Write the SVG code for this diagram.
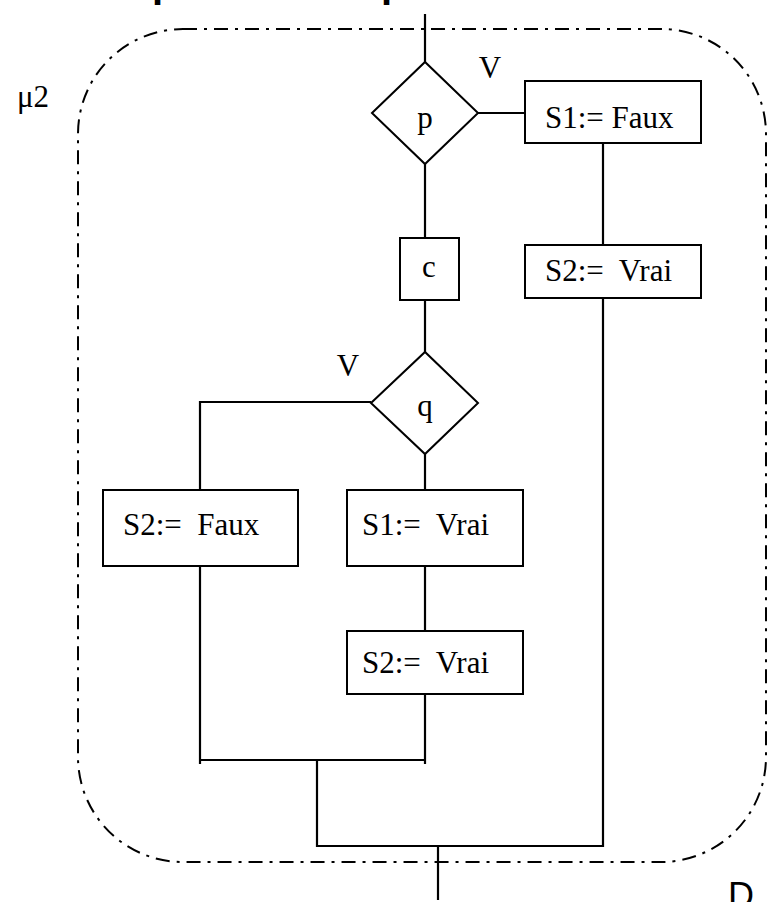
<svg xmlns="http://www.w3.org/2000/svg" width="769" height="902" viewBox="0 0 769 902">
<style>
.ln{fill:none;stroke:#000;stroke-width:2.2}
.bx{fill:#fff;stroke:#000;stroke-width:2}
.t{font-family:"Liberation Serif","Times New Roman",serif;font-size:31px;fill:#000}
.ts{font-family:"Liberation Sans",Arial,sans-serif;fill:#000}
.frame{fill:none;stroke:#000;stroke-width:2;stroke-dasharray:14 7 3 7}
</style>
<rect fill="#fff" x="0" y="0" width="769" height="902"/>
<text class="ts" x="152" y="-3" font-size="40" font-weight="bold">p</text>
<text class="ts" x="381" y="-3" font-size="40" font-weight="bold">p</text>
<rect class="frame" x="78" y="29" width="688" height="833" rx="105" ry="105"/>
<text class="t" x="17" y="107" font-size="28">μ2</text>
<text class="ts" x="728" y="908" font-size="36">D</text>
<g id="connectors">
<path class="ln" d="M425 14V62"/>
<path class="ln" d="M478 113H525"/>
<path class="ln" d="M425 164V238"/>
<path class="ln" d="M425 300V352"/>
<path class="ln" d="M371 402H200V490"/>
<path class="ln" d="M425 454V490"/>
<path class="ln" d="M425 566V631"/>
<path class="ln" d="M425 694V764"/>
<path class="ln" d="M200 566V764"/>
<path class="ln" d="M200 760H425"/>
<path class="ln" d="M317 760V846H603V298"/>
<path class="ln" d="M603 143V245"/>
<path class="ln" d="M438 846V900"/>
</g>
<g id="p">
<polygon class="bx" points="372,113 425,62 478,113 425,164"/>
<text class="t" x="425" y="128" text-anchor="middle">p</text>
</g>
<text class="t" x="490" y="78" text-anchor="middle">V</text>
<g id="s1faux">
<rect class="bx" x="525" y="81" width="176" height="62"/>
<text class="t" x="545" y="128">S1:= Faux</text>
</g>
<g id="c">
<rect class="bx" x="400" y="238" width="59" height="62"/>
<text class="t" x="429" y="277" text-anchor="middle">c</text>
</g>
<g id="s2vrai_r">
<rect class="bx" x="525" y="245" width="176" height="53"/>
<text class="t" x="545" y="281" xml:space="preserve">S2:=  Vrai</text>
</g>
<g id="q">
<polygon class="bx" points="371,403 425,352 478,403 425,454"/>
<text class="t" x="425" y="416" text-anchor="middle">q</text>
</g>
<text class="t" x="348" y="376" text-anchor="middle">V</text>
<g id="s2faux">
<rect class="bx" x="103" y="490" width="195" height="76"/>
<text class="t" x="123" y="535" xml:space="preserve">S2:=  Faux</text>
</g>
<g id="s1vrai">
<rect class="bx" x="347" y="490" width="176" height="76"/>
<text class="t" x="362" y="535" xml:space="preserve">S1:=  Vrai</text>
</g>
<g id="s2vrai">
<rect class="bx" x="347" y="631" width="176" height="63"/>
<text class="t" x="362" y="673" xml:space="preserve">S2:=  Vrai</text>
</g>
</svg>
